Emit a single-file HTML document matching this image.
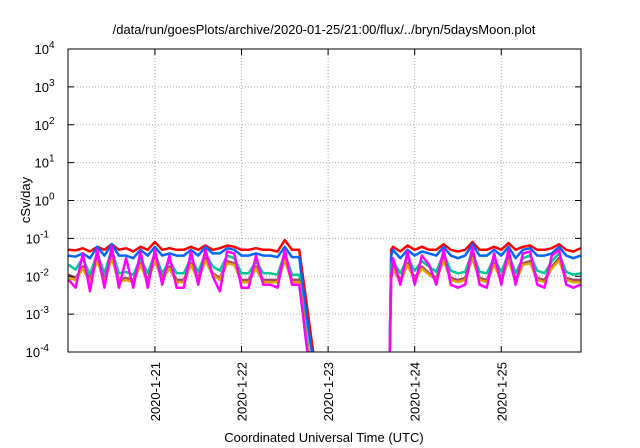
<!DOCTYPE html>
<html><head><meta charset="utf-8"><style>
html,body{margin:0;padding:0;background:#fff;}
svg{display:block;font-family:"Liberation Sans",sans-serif;}
</style></head><body>
<svg id="chart" width="640" height="448" viewBox="0 0 640 448" xmlns="http://www.w3.org/2000/svg">
<defs><clipPath id="clip"><rect x="68" y="49" width="513" height="303"/></clipPath></defs>
<text x="324" y="34" font-size="13" text-anchor="middle">/data/run/goesPlots/archive/2020-01-25/21:00/flux/../bryn/5daysMoon.plot</text>
<text transform="translate(30,200) rotate(-90)" font-size="13" text-anchor="middle">cSv/day</text>
<text x="324" y="442" font-size="13" text-anchor="middle">Coordinated Universal Time (UTC)</text>
<g id="grid"></g>
<g id="series" clip-path="url(#clip)"></g>
<rect x="68" y="49" width="513" height="303" fill="none" stroke="#000" stroke-width="1"/>
<g id="axes"></g>
</svg>
<script>
const hours1 = [0,2,4,6,8,10,12,14,16,18,20,22,24,26,28,30,32,34,36,38,40,42,44,46,48,50,52,54,56,58,60,62,64,65,66,67,68];
const hours2 = [89,89.5,90,92,94,96,98,100,102,104,106,108,110,112,114,116,118,120,122,124,126,128,130,132,134,136,138,140,142];
const red1 = [0.05,0.048,0.055,0.045,0.06,0.05,0.07,0.05,0.055,0.045,0.06,0.05,0.08,0.05,0.055,0.05,0.05,0.06,0.05,0.065,0.05,0.055,0.065,0.06,0.05,0.05,0.055,0.05,0.05,0.045,0.09,0.05,0.05,0.01,0.002,0.0004,0.00008];
const red2 = [0.00003,0.05,0.06,0.045,0.065,0.05,0.06,0.05,0.05,0.07,0.05,0.045,0.05,0.08,0.05,0.05,0.06,0.05,0.075,0.05,0.06,0.065,0.05,0.05,0.055,0.07,0.05,0.045,0.055];
const blue1 = [0.035,0.033,0.04,0.03,0.06,0.035,0.07,0.035,0.035,0.03,0.05,0.035,0.06,0.035,0.04,0.035,0.035,0.05,0.035,0.06,0.04,0.04,0.055,0.05,0.035,0.035,0.04,0.035,0.035,0.032,0.06,0.032,0.032,0.005,0.001,0.0002,0.00005];
const blue2 = [0.00003,0.035,0.05,0.03,0.05,0.035,0.045,0.04,0.035,0.06,0.035,0.03,0.035,0.07,0.035,0.035,0.05,0.035,0.06,0.03,0.05,0.055,0.035,0.035,0.04,0.06,0.035,0.03,0.035];
const teal1 = [0.02,0.015,0.03,0.011,0.04,0.012,0.05,0.012,0.013,0.011,0.03,0.012,0.04,0.012,0.025,0.012,0.012,0.03,0.013,0.04,0.018,0.014,0.035,0.03,0.012,0.012,0.025,0.012,0.012,0.011,0.04,0.011,0.011,0.002,0.0003,0.00005,0.00003];
const teal2 = [0.00003,0.02,0.025,0.012,0.03,0.014,0.025,0.018,0.013,0.04,0.014,0.012,0.013,0.045,0.013,0.012,0.03,0.013,0.04,0.012,0.03,0.035,0.014,0.012,0.025,0.04,0.013,0.011,0.012];
const brown1 = [0.011,0.009,0.018,0.008,0.03,0.008,0.035,0.008,0.009,0.008,0.022,0.008,0.03,0.009,0.018,0.008,0.008,0.022,0.009,0.03,0.012,0.009,0.025,0.022,0.008,0.008,0.018,0.008,0.008,0.008,0.03,0.008,0.008,0.0015,0.0002,0.00004,0.00003];
const brown2 = [0.00003,0.011,0.018,0.008,0.022,0.009,0.018,0.012,0.009,0.03,0.009,0.008,0.009,0.035,0.009,0.008,0.022,0.009,0.03,0.008,0.022,0.025,0.009,0.008,0.018,0.03,0.009,0.008,0.008];
const orange1 = [0.009,0.008,0.016,0.007,0.026,0.007,0.03,0.007,0.008,0.007,0.02,0.007,0.026,0.008,0.016,0.007,0.007,0.02,0.008,0.026,0.011,0.008,0.022,0.02,0.007,0.007,0.016,0.007,0.007,0.007,0.026,0.007,0.007,0.0013,0.0002,0.00004,0.00003];
const orange2 = [0.00003,0.009,0.016,0.007,0.02,0.008,0.016,0.011,0.008,0.026,0.008,0.007,0.008,0.03,0.008,0.007,0.02,0.008,0.026,0.007,0.02,0.022,0.008,0.007,0.016,0.026,0.008,0.007,0.007];
const magenta1 = [0.008,0.005,0.04,0.004,0.05,0.005,0.06,0.005,0.03,0.005,0.045,0.005,0.05,0.006,0.035,0.005,0.005,0.045,0.006,0.05,0.01,0.004,0.045,0.04,0.005,0.005,0.035,0.006,0.006,0.005,0.05,0.006,0.006,0.001,0.00015,0.00003,0.00003];
const magenta2 = [0.00003,0.008,0.03,0.006,0.045,0.006,0.035,0.02,0.006,0.05,0.006,0.005,0.006,0.06,0.006,0.005,0.04,0.006,0.05,0.006,0.04,0.045,0.006,0.005,0.035,0.05,0.006,0.005,0.006];
const yTickExps = [-4,-3,-2,-1,0,1,2,3,4];
const xTickLabels = ["2020-1-21","2020-1-22","2020-1-23","2020-1-24","2020-1-25"];
const xTickHours = [24,48,72,96,120];

const X0=68,X1=581,Y0=49,Y1=352,H0=-0.1,H1=142.1;
function xs(h){return X0+(h-H0)/(H1-H0)*(X1-X0);}
function ys(v){return Y1-(Math.log10(v)+4)/8*(Y1-Y0);}
const NS="http://www.w3.org/2000/svg";
function mk(t,a,p){const e=document.createElementNS(NS,t);for(const k in a)e.setAttribute(k,a[k]);p.appendChild(e);return e;}
const grid=document.getElementById('grid'),axes=document.getElementById('axes'),ser=document.getElementById('series');
yTickExps.forEach(ex=>{
  const y=ys(Math.pow(10,ex));
  if(ex>-4&&ex<4){const g=mk('line',{x1:X0,x2:X1,y1:y,y2:y,stroke:'#aaa','stroke-dasharray':'1,2','stroke-width':1},grid);
  
  }
  const t1=mk('line',{x1:X0,x2:X0+6,y1:y,y2:y,stroke:'#000'},axes);
  
  
  const t2=mk('line',{x1:X1-6,x2:X1,y1:y,y2:y,stroke:'#000'},axes);
  
  
  const tx=mk('text',{x:X0-8,y:y+5,'font-size':13,'text-anchor':'end'},axes);
  
  
  tx.appendChild(document.createTextNode('10'));
  const sp=mk('tspan',{dy:-6,'font-size':10},tx);sp.textContent=String(ex);
  tx.setAttribute('x',X0-8-(String(ex).length*5.5));
  tx.setAttribute('text-anchor','end');
});
xTickHours.forEach((h,i)=>{
  const x=xs(h);
  const g=mk('line',{x1:x,x2:x,y1:Y0,y2:Y1,stroke:'#aaa','stroke-dasharray':'1,2'},grid);
  
  
  const t=mk('line',{x1:x,x2:x,y1:Y1-6,y2:Y1,stroke:'#000'},axes);
  
  
  const t2=mk('line',{x1:x,x2:x,y1:Y0,y2:Y0+6,stroke:'#000'},axes);
  
  
  const tx=mk('text',{transform:`translate(${x+5},${Y1+10}) rotate(-90)`,'font-size':13,'text-anchor':'end'},axes);
  
  
  tx.textContent=xTickLabels[i];
});
const series=[
 ['red',red1,red2,'#ff0000'],['blue',blue1,blue2,'#0066ff'],['teal',teal1,teal2,'#00c896'],
 ['brown',brown1,brown2,'#9a4a6a'],['orange',orange1,orange2,'#e0a000'],['magenta',magenta1,magenta2,'#ff00ff']];
series.forEach(s=>{
  [[hours1,s[1]],[hours2,s[2]]].forEach(([hs,vs])=>{
    const d=hs.map((h,i)=>(i?'L':'M')+xs(h).toFixed(1)+','+ys(vs[i]).toFixed(1)).join('');
    const p=mk('path',{d:d,fill:'none',stroke:s[3],'stroke-width':2.5,'stroke-linejoin':'round'},ser);
    
    
  });
});
</script>
</body></html>
